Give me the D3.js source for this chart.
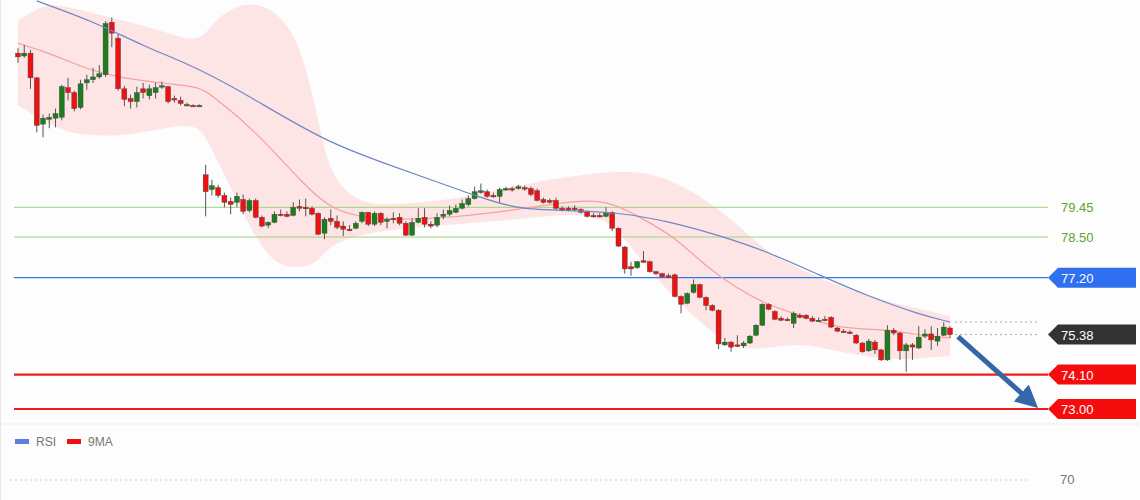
<!DOCTYPE html>
<html>
<head>
<meta charset="utf-8">
<script src="https://cdn.jsdelivr.net/npm/d3@7"></script>
<style>
  body { margin: 0; background: #fcfdfc; }
  text { font-family: "Liberation Sans", Arial, sans-serif; }
</style>
</head>
<body>
<svg id="chart" width="1140" height="500"></svg>
<script>
// candles: [open, close, high, low]
const candles = [
  [84.38,84.26,84.54,84.07],[84.29,84.38,84.64,84.23],[84.38,83.59,84.48,83.24],[83.59,82.07,83.62,81.85],
  [82.11,82.30,82.42,81.69],[82.26,82.33,82.45,81.98],[82.30,82.45,82.61,82.01],[82.33,83.31,83.37,82.23],
  [83.28,83.12,83.59,82.87],[83.12,82.61,83.18,82.52],[82.64,83.40,83.53,82.58],[83.43,83.53,83.69,83.21],
  [83.53,83.62,83.91,83.43],[83.62,83.72,84.00,83.56],[83.69,85.33,85.40,83.62],[85.37,85.02,85.52,84.57],
  [84.86,83.24,84.99,83.18],[83.24,82.90,83.34,82.68],[82.93,82.83,83.05,82.61],[82.83,83.12,83.31,82.64],
  [83.24,83.12,83.43,82.93],[83.02,83.24,83.37,82.90],[83.12,83.28,83.43,82.93],[83.31,83.34,83.47,83.24],
  [83.31,82.83,83.34,82.77],[82.93,82.90,83.02,82.80],[82.87,82.77,82.99,82.71],[82.74,82.74,82.80,82.68],
  [82.71,82.70,82.74,82.68],[82.71,82.71,82.74,82.68],
  [80.49,79.95,80.81,79.16],[80.02,80.14,80.33,79.83],[80.08,79.83,80.17,79.76],[79.83,79.61,79.92,79.45],
  [79.64,79.54,79.76,79.23],[79.61,79.80,79.92,79.45],[79.70,79.32,79.86,79.23],[79.35,79.67,79.73,79.29],
  [79.67,79.13,79.73,79.10],[79.13,78.85,79.19,78.81],[78.88,78.97,79.00,78.78],[78.97,79.23,79.32,78.94],
  [79.23,79.19,79.38,79.16],[79.23,79.16,79.32,79.13],[79.19,79.45,79.61,79.16],[79.48,79.42,79.70,79.32],
  [79.45,79.42,79.73,79.16],[79.42,79.23,79.48,79.19],[79.26,78.59,79.29,78.56],[78.62,79.07,79.13,78.43],
  [79.10,79.00,79.38,78.88],[79.00,78.81,79.19,78.75],[78.85,78.75,79.00,78.53],[78.75,78.74,78.88,78.69],
  [78.78,78.94,79.00,78.75],[79.00,79.29,79.32,78.94],[79.29,78.91,79.29,78.85],[78.91,79.26,79.32,78.85],
  [79.26,78.97,79.29,78.88],[79.00,79.07,79.13,78.78],[79.10,79.09,79.29,78.94],[79.13,78.94,79.26,78.88],
  [78.94,78.56,79.00,78.53],[78.56,78.97,79.10,78.53],[78.97,79.10,79.42,78.94],[79.13,78.91,79.42,78.81],
  [78.91,78.85,79.00,78.78],[78.88,79.13,79.26,78.81],[79.16,79.23,79.38,79.07],[79.23,79.35,79.51,79.16],
  [79.29,79.42,79.54,79.26],[79.42,79.57,79.70,79.38],[79.54,79.73,79.83,79.48],[79.73,79.95,80.11,79.70],
  [79.92,79.98,80.21,79.89],[79.95,79.80,80.02,79.76],[79.83,79.80,79.92,79.76],[79.80,80.02,80.08,79.61],
  [80.02,80.05,80.11,79.98],[80.05,80.02,80.11,79.95],[80.05,80.11,80.17,80.02],[80.08,80.05,80.14,79.98],
  [80.05,79.86,80.11,79.80],[79.98,79.67,80.05,79.64],[79.70,79.61,79.76,79.57],[79.67,79.61,79.73,79.57],
  [79.67,79.42,79.76,79.35],[79.42,79.35,79.48,79.32],[79.42,79.35,79.48,79.32],[79.42,79.38,79.51,79.32],
  [79.38,79.29,79.42,79.26],[79.32,79.16,79.35,79.13],[79.19,79.16,79.26,79.13],[79.19,79.16,79.26,79.13],
  [79.16,79.26,79.45,79.13],[79.29,78.78,79.32,78.69],[78.78,78.21,78.81,78.18],[78.18,77.48,78.21,77.33],
  [77.55,77.48,77.71,77.26],[77.52,77.71,77.74,77.48],[77.74,77.71,78.05,77.68],[77.71,77.39,77.74,77.36],
  [77.39,77.33,77.42,77.29],[77.33,77.23,77.36,77.20],[77.26,77.23,77.33,77.20],[77.29,76.60,77.33,76.57],
  [76.60,76.35,76.63,76.06],[76.38,76.69,76.73,76.35],[76.73,76.98,77.14,76.69],[76.98,76.57,77.01,76.54],
  [76.57,76.31,76.60,76.16],[76.31,76.16,76.35,76.12],[76.16,75.08,76.19,74.92],[75.05,75.14,75.27,75.02],
  [75.14,74.98,75.17,74.83],[75.05,75.02,75.36,74.98],[75.02,75.11,75.17,74.95],[75.11,75.33,75.36,75.08],
  [75.36,75.68,75.71,75.33],[75.68,76.35,76.38,75.65],[76.35,76.19,76.38,76.16],[76.12,75.87,76.16,75.84],
  [75.90,75.84,75.97,75.81],[75.87,75.84,75.93,75.81],[75.74,76.06,76.12,75.59],[76.00,75.93,76.06,75.90],
  [76.00,75.90,76.03,75.87],[75.90,75.81,75.97,75.78],[75.84,75.84,75.93,75.78],[75.87,75.86,75.97,75.81],
  [75.93,75.62,75.97,75.59],[75.59,75.49,75.62,75.46],[75.49,75.46,75.55,75.43],[75.46,75.43,75.52,75.40],
  [75.36,75.11,75.40,75.08],[75.11,74.83,75.14,74.80],[74.86,75.17,75.24,74.83],[75.14,74.89,75.21,74.76],
  [74.89,74.57,74.92,74.54],[74.57,75.52,75.68,74.54],[75.52,75.43,75.59,75.36],[75.43,74.86,75.46,74.57],
  [74.86,75.05,75.11,74.19],[75.05,74.98,75.11,74.57],[74.95,75.30,75.65,74.92],[75.33,75.40,75.55,75.27],
  [75.40,75.21,75.65,74.89],[75.17,75.33,75.59,75.02],[75.36,75.62,75.78,75.33],[75.59,75.38,75.65,75.27]
];

// indicator samples (candle index -> price)
const bandIdx   = [0,4,8,12,16,20,24,29,31,35,40,45,48,50,55,60,70,80,90,95,100,105,110,115,120,125,130,135,140,145,149];
const bandUpper = [85.40,85.97,85.87,85.65,85.46,85.27,85.02,84.70,85.33,85.97,85.97,84.90,82.23,80.33,79.54,79.54,79.70,80.17,80.49,80.59,80.59,80.27,79.70,78.91,77.96,77.48,77.01,76.69,76.38,76.16,75.97];
const bandLower = [82.71,82.23,81.82,81.76,81.73,81.85,82.01,82.14,81.28,79.70,77.64,77.48,77.70,78.28,78.59,78.75,78.91,79.07,79.29,79.00,77.64,76.54,75.59,74.89,74.95,75.11,74.89,74.70,74.57,74.63,74.70];
const maIdx     = [0,4,8,12,16,20,24,29,31,35,40,45,50,55,60,70,80,90,95,100,105,110,115,120,125,130,135,140,145,149];
const maShort   = [84.70,84.45,84.13,83.81,83.62,83.50,83.40,83.31,83.02,82.39,81.44,80.33,79.38,79.13,79.04,79.13,79.38,79.70,79.61,79.07,78.50,77.55,76.85,76.31,76.00,75.65,75.55,75.52,75.33,75.27];
const longIdx   = [3,12,20,28,34,42,50,58,66,74,80,88,96,104,112,120,128,136,144,149];
const maLong    = [86.05,85.40,84.61,83.97,83.34,82.40,81.50,80.90,80.33,79.76,79.38,79.35,79.29,79.00,78.56,78.02,77.29,76.60,76.03,75.78];

const levels = [
  { v: 79.45, color: "#9fd37a", width: 1, tag: null, text: "#5fa52e" },
  { v: 78.50, color: "#9fd37a", width: 1, tag: null, text: "#5fa52e" },
  { v: 77.20, color: "#3377ee", width: 1.2, tag: "#2f6ff0", text: "#fff" },
  { v: 74.10, color: "#ee1c1c", width: 2.2, tag: "#f50d0d", text: "#fff" },
  { v: 73.00, color: "#ee1c1c", width: 2.2, tag: "#f50d0d", text: "#fff" }
];
const lastPrice = 75.38;
const arrowTarget = 73.00;
const legend = [{ name: "RSI", color: "#5b7fe0" }, { name: "9MA", color: "#ee1111" }];
const rsiTicks = [70];

const svg = d3.select("#chart");
const x = d3.scaleLinear().domain([0, candles.length - 1]).range([18, 950]);
const y = d3.scaleLinear().domain([86.08, 73.0]).range([0, 409]);
const fmt = d3.format(".2f");

// Bollinger band
const area = d3.area().x((d, i) => x(bandIdx[i])).y0((d, i) => y(bandLower[i])).y1(d => y(d)).curve(d3.curveBasis);
svg.append("path").datum(bandUpper).attr("d", area).attr("fill", "#fde0e0").attr("opacity", 0.85);

// level lines
levels.forEach(l => {
  svg.append("line").attr("x1", 14).attr("x2", 1048).attr("y1", y(l.v)).attr("y2", y(l.v))
    .attr("stroke", l.color).attr("stroke-width", l.width);
  if (l.tag) {
    const yy = y(l.v);
    svg.append("path").attr("fill", l.tag)
      .attr("d", `M1048,${yy} L1058,${yy - 10} L1136,${yy - 10} L1136,${yy + 10} L1058,${yy + 10} Z`);
  }
  svg.append("text").attr("x", 1061).attr("y", y(l.v) + 5).attr("font-size", 13)
    .attr("fill", l.text).text(fmt(l.v));
});

// dotted guides for last price and long MA end
svg.append("line").attr("x1", 955).attr("x2", 1040).attr("y1", y(maLong[maLong.length - 1])).attr("y2", y(maLong[maLong.length - 1]))
  .attr("stroke", "#aaa").attr("stroke-dasharray", "2,3");
svg.append("line").attr("x1", 955).attr("x2", 1040).attr("y1", y(lastPrice)).attr("y2", y(lastPrice))
  .attr("stroke", "#aaa").attr("stroke-dasharray", "2,3");
{
  const yy = y(lastPrice);
  svg.append("path").attr("fill", "#333")
    .attr("d", `M1048,${yy} L1058,${yy - 10} L1136,${yy - 10} L1136,${yy + 10} L1058,${yy + 10} Z`);
  svg.append("text").attr("x", 1061).attr("y", yy + 5).attr("font-size", 13).attr("fill", "#fff").text(fmt(lastPrice));
}

// moving averages
const line = idx => d3.line().x((d, i) => x(idx[i])).y(d => y(d)).curve(d3.curveBasis);
svg.append("path").datum(maShort).attr("d", line(maIdx)).attr("fill", "none").attr("stroke", "#f4a0a0").attr("stroke-width", 1.2);

// candles
const g = svg.append("g");
candles.forEach((c, i) => {
  const [o, cl, h, l] = c;
  const up = cl >= o;
  g.append("line").attr("x1", x(i)).attr("x2", x(i)).attr("y1", y(h)).attr("y2", y(l))
    .attr("stroke", "#555").attr("stroke-width", 1);
  const top = y(Math.max(o, cl)), bot = y(Math.min(o, cl));
  g.append("rect").attr("x", x(i) - 2.5).attr("width", 5).attr("y", top).attr("height", Math.max(1.5, bot - top))
    .attr("fill", up ? "#1e7b1e" : "#ee1111").attr("stroke", "#444").attr("stroke-width", 0.4);
});

svg.append("path").datum(maLong).attr("d", line(longIdx)).attr("fill", "none").attr("stroke", "#6f87c4").attr("stroke-width", 1.2);

// forecast arrow
svg.append("defs").append("marker").attr("id", "ah").attr("viewBox", "0 0 10 10").attr("refX", 4).attr("refY", 5)
  .attr("markerWidth", 4.5).attr("markerHeight", 4.5).attr("orient", "auto")
  .append("path").attr("d", "M0,0 L10,5 L0,10 Z").attr("fill", "#3566a8");
svg.append("line").attr("x1", x(candles.length - 1) + 8).attr("y1", y(lastPrice) + 2)
  .attr("x2", 1028).attr("y2", y(arrowTarget) - 10)
  .attr("stroke", "#3566a8").attr("stroke-width", 5).attr("marker-end", "url(#ah)");

// lower panel
svg.append("line").attr("x1", 0).attr("x2", 1140).attr("y1", 424).attr("y2", 424).attr("stroke", "#ddd").attr("stroke-dasharray", "2,2");
legend.forEach((l, i) => {
  svg.append("rect").attr("x", 15 + i * 52).attr("y", 439).attr("width", 14).attr("height", 5).attr("fill", l.color);
  svg.append("text").attr("x", 36 + i * 52).attr("y", 446).attr("font-size", 12).attr("fill", "#777").text(l.name);
});
rsiTicks.forEach(t => {
  svg.append("line").attr("x1", 10).attr("x2", 1030).attr("y1", 480).attr("y2", 480).attr("stroke", "#ccc").attr("stroke-dasharray", "2,3");
  svg.append("text").attr("x", 1060).attr("y", 484).attr("font-size", 13).attr("fill", "#777").text(t);
});
svg.append("line").attr("x1", 0.5).attr("x2", 0.5).attr("y1", 0).attr("y2", 500).attr("stroke", "#e6e6e6");
</script>
</body>
</html>
